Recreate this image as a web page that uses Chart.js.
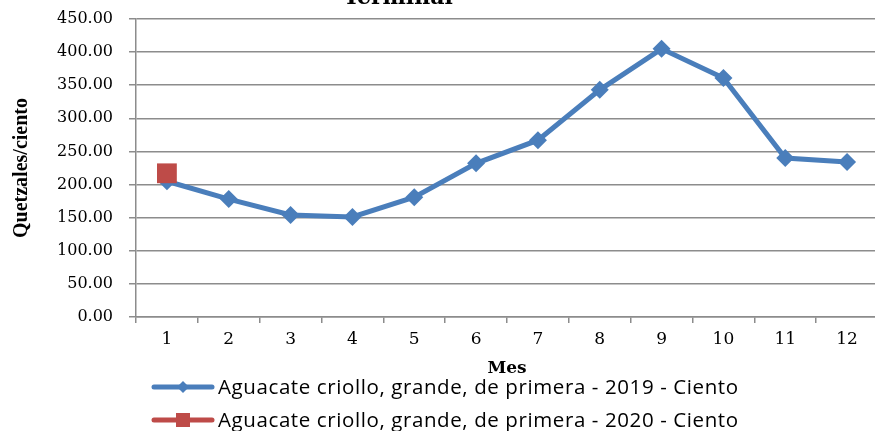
<!DOCTYPE html>
<html>
<head>
<meta charset="utf-8">
<script src="https://cdn.jsdelivr.net/npm/chart.js@4/dist/chart.umd.min.js"></script>
<style>
html,body{margin:0;padding:0;background:#fff;overflow:hidden;}
#wrap{width:875px;height:431px;overflow:hidden;}
canvas{display:block;}
</style>
</head>
<body>
<div id="wrap"><canvas id="c" width="878" height="431"></canvas></div>
<script>
const months = ['1','2','3','4','5','6','7','8','9','10','11','12'];
const serie2019 = [205, 178, 154, 151, 181, 232, 267, 343, 405, 361, 240, 234];
const serie2020 = [217, null, null, null, null, null, null, null, null, null, null, null];
const label2019 = 'Aguacate criollo, grande, de primera - 2019 - Ciento';
const label2020 = 'Aguacate criollo, grande, de primera - 2020 - Ciento';
const titleText = 'Terminal';
const yTitle = 'Quetzales/ciento';
const xTitle = 'Mes';

const BLUE = '#4A7EBB';
const RED = '#BE4B48';
const GRID = '#8c8c8c';

const topTitle = {
  id: 'topTitle',
  afterDraw(chart) {
    const ctx = chart.ctx;
    ctx.save();
    ctx.font = 'bold 22px "DejaVu Serif"';
    ctx.fillStyle = '#000';
    ctx.textAlign = 'center';
    ctx.textBaseline = 'alphabetic';
    ctx.fillText(titleText, 398, 4);
    ctx.restore();
  }
};

const customLegend = {
  id: 'customLegend',
  afterDraw(chart) {
    const ctx = chart.ctx;
    const rows = [387, 420];
    chart.data.datasets.forEach((ds, i) => {
      const y = rows[i];
      ctx.save();
      ctx.strokeStyle = ds.borderColor;
      ctx.lineWidth = 5;
      ctx.lineCap = 'round';
      ctx.beginPath();
      ctx.moveTo(154, y);
      ctx.lineTo(212, y);
      ctx.stroke();
      ctx.fillStyle = ds.pointBackgroundColor;
      ctx.beginPath();
      if (ds.pointStyle === 'rectRot') {
        ctx.moveTo(183, y - 6);
        ctx.lineTo(189, y);
        ctx.lineTo(183, y + 6);
        ctx.lineTo(177, y);
        ctx.closePath();
      } else {
        ctx.rect(176, y - 7, 14, 14);
      }
      ctx.fill();
      ctx.fillStyle = '#000';
      ctx.font = '20.5px "Open Sans"';
      ctx.letterSpacing = '0.6px';
      ctx.textAlign = 'left';
      ctx.textBaseline = 'middle';
      ctx.fillText(ds.label, 218, y + 1);
      ctx.restore();
    });
  }
};

new Chart(document.getElementById('c'), {
  type: 'line',
  data: {
    labels: months,
    datasets: [
      {
        label: label2019,
        data: serie2019,
        borderColor: BLUE,
        backgroundColor: BLUE,
        pointBackgroundColor: BLUE,
        pointBorderColor: BLUE,
        borderWidth: 5,
        pointStyle: 'rectRot',
        pointRadius: 9,
        pointBorderWidth: 0,
        tension: 0,
        order: 2
      },
      {
        label: label2020,
        data: serie2020,
        borderColor: RED,
        backgroundColor: RED,
        pointBackgroundColor: RED,
        pointBorderColor: RED,
        borderWidth: 5,
        pointStyle: 'rect',
        pointRadius: 14,
        pointBorderWidth: 0,
        order: 1
      }
    ]
  },
  options: {
    responsive: false,
    devicePixelRatio: 1,
    animation: false,
    layout: { autoPadding: false, padding: { top: 19, bottom: 50, left: 0, right: 0 } },
    plugins: {
      legend: { display: false },
      tooltip: { enabled: false },
      title: { display: false }
    },
    scales: {
      x: {
        type: 'category',
        offset: true,
        grid: {
          offset: true,
          drawOnChartArea: false,
          drawTicks: true,
          tickLength: 6,
          tickColor: GRID,
          lineWidth: 1.5
        },
        border: { color: GRID, width: 1.5 },
        ticks: {
          color: '#000',
          font: { family: 'DejaVu Serif', size: 17 },
          padding: 6,
          maxRotation: 0,
          autoSkip: false
        },
        title: {
          display: true,
          text: xTitle,
          color: '#000',
          font: { family: 'DejaVu Serif', size: 17, weight: 'bold' },
          padding: { top: 4, bottom: 2 }
        },
        afterFit(scale) {
          scale.height = 64;
          scale.paddingLeft = 0;
          scale.paddingRight = 0;
        }
      },
      y: {
        min: 0,
        max: 450,
        grid: {
          color: GRID,
          lineWidth: 1.5,
          drawTicks: true,
          tickLength: 7,
          tickColor: GRID
        },
        border: { color: GRID, width: 1.5 },
        ticks: {
          stepSize: 50,
          color: '#000',
          font: { family: 'DejaVu Serif', size: 16 },
          padding: 16,
          callback: v => Number(v).toFixed(2)
        },
        title: {
          display: true,
          text: yTitle,
          color: '#000',
          font: { family: 'Liberation Serif', size: 20, weight: 'bold' },
          padding: { top: 10, bottom: 4 }
        },
        afterFit(scale) {
          scale.width = 136;
          scale.paddingTop = 0;
          scale.paddingBottom = 0;
        }
      }
    }
  },
  plugins: [topTitle, customLegend]
});
</script>
</body>
</html>
